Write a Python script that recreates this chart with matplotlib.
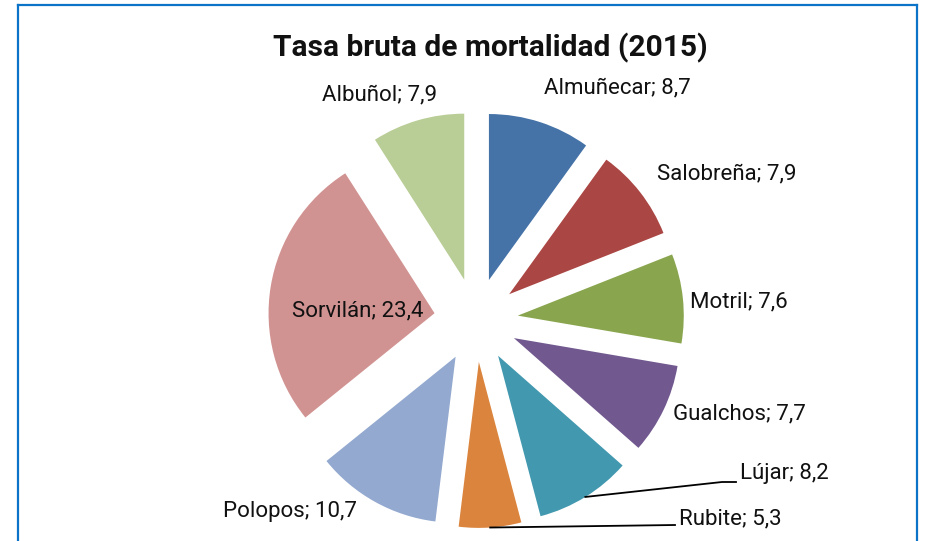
import matplotlib
matplotlib.use("Agg")
import numpy as np
import matplotlib.pyplot as plt
from matplotlib import font_manager
from matplotlib.lines import Line2D

# ---- data ----
municipios = ["Almuñecar", "Salobreña", "Motril", "Gualchos", "Lújar",
              "Rubite", "Polopos", "Sorvilán", "Albuñol"]
tasa = [8.7, 7.9, 7.6, 7.7, 8.2, 5.3, 10.7, 23.4, 7.9]
colores = ["#4572A7", "#AA4643", "#89A54E", "#71588F", "#4198AF",
           "#DB843D", "#93A9CF", "#D19392", "#B9CD96"]
titulo = "Tasa bruta de mortalidad (2015)"

# pick a condensed-looking font if available
avail = {f.name for f in font_manager.fontManager.ttflist}
fam = next((f for f in ["Liberation Sans Narrow", "Roboto", "Open Sans"] if f in avail), "DejaVu Sans")
plt.rcParams['font.family'] = [fam, 'DejaVu Sans']

W, H = 926, 541
CX, CY, R = 476, 320, 166          # pie centre / radius in pixels
fig = plt.figure(figsize=(W / 100, H / 100), dpi=100)
ax = fig.add_axes([0, 0, 1, 1])

explode = [0.253] * len(tasa)
wedges, _ = ax.pie(tasa, colors=colores, startangle=90, counterclock=False,
                   explode=explode, radius=1.0, center=(0, 0), frame=True,
                   wedgeprops=dict(linewidth=0))
ax.set_xlim(-CX / R, (W - CX) / R)
ax.set_ylim((CY - H) / R, CY / R)
ax.axis('off')

def px(x, y):
    return ((x - CX) / R, (CY - y) / R)

# label layout (pixel positions of text anchors)
lab_pos = {
    "Almuñecar": (617, 88, 'center'),
    "Salobreña": (727, 174, 'center'),
    "Motril": (739, 302, 'center'),
    "Gualchos": (739, 414, 'center'),
    "Lújar": (740, 473, 'left'),
    "Rubite": (679, 519, 'left'),
    "Polopos": (290, 512, 'center'),
    "Sorvilán": (358, 311, 'center'),
    "Albuñol": (380, 95, 'center'),
}
leader_end = {"Lújar": [(722, 482), (736, 482)], "Rubite": [(675, 525)]}

for w, name, val in zip(wedges, municipios, tasa):
    x, y, ha = lab_pos[name]
    tx, ty = px(x, y)
    ax.text(tx, ty, f"{name}; {val:.1f}".replace('.', ','), ha=ha, va='center',
            fontsize=16, color='#111111')
    if name in leader_end:
        mid = np.deg2rad((w.theta1 + w.theta2) / 2)
        cx, cy = w.center
        xs = [cx + w.r * np.cos(mid)]
        ys = [cy + w.r * np.sin(mid)]
        for (lx, ly) in leader_end[name]:
            dx, dy = px(lx, ly)
            xs.append(dx); ys.append(dy)
        ax.plot(xs, ys, color='black', lw=1.3)

fig.text(490 / W, 1 - 48 / H, titulo, ha='center', va='center',
         fontsize=21.5, fontweight='bold', color='#111111')

# blue frame around chart area
bc = '#0B74C8'
for xy in [([18, 18], [5, 560]), ([917, 917], [5, 560]), ([18, 917], [5, 5])]:
    fig.add_artist(Line2D(np.array(xy[0]) / W, 1 - np.array(xy[1]) / H,
                          transform=fig.transFigure, color=bc, lw=1.6))

fig.savefig("out.png", dpi=100)
